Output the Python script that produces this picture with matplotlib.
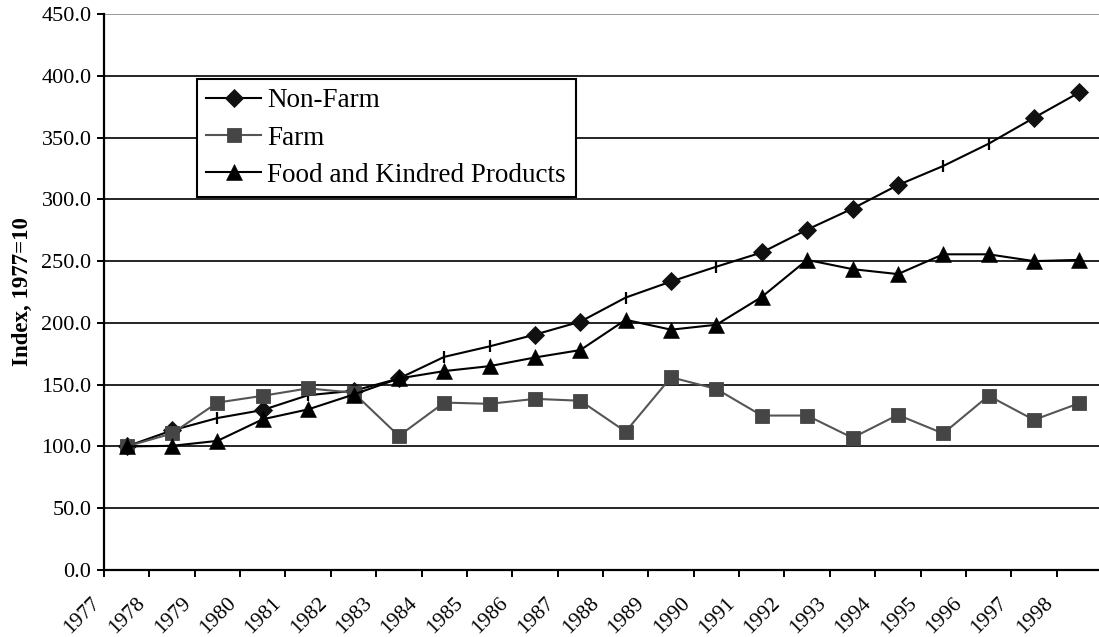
import matplotlib
matplotlib.use('Agg')
import matplotlib.pyplot as plt
import matplotlib.transforms as mtransforms

plt.rcParams['font.family'] = ['Liberation Serif', 'DejaVu Serif']

# Índices anuais (base 1977 = 100)
anos = [str(a) for a in range(1977, 1999)]

nao_agricola = [100.0, 113.0, 123.0, 129.5, 141.5, 145.0, 155.0, 172.5, 181.0, 190.5,
                201.0, 220.5, 233.5, 245.5, 257.0, 275.5, 292.5, 311.5, 327.0, 345.0,
                366.0, 386.5]
agricola = [100.0, 110.5, 135.5, 141.0, 147.0, 143.5, 108.5, 135.5, 134.5, 138.5,
            137.0, 112.0, 156.0, 146.5, 125.0, 125.0, 107.0, 125.5, 110.5, 141.0,
            121.5, 135.0]
alimentos = [100.0, 100.5, 104.5, 122.0, 130.0, 142.0, 155.0, 161.0, 165.0, 172.0,
             178.0, 202.5, 194.5, 198.5, 221.0, 251.0, 243.5, 239.5, 255.5, 255.5,
             250.0, 251.0]

# pontos da série Non-Farm que aparecem só com um traço vertical
sem_losango = [2, 4, 7, 8, 11, 13, 18, 19]

rotulos_series = ['Non-Farm', 'Farm', 'Food and Kindred Products']

# pontos no centro de cada categoria
x = [i + 0.5 for i in range(len(anos))]
com_losango = [i for i in range(len(anos)) if i not in sem_losango]

fig = plt.figure(figsize=(10.99, 6.37), dpi=100)
ax = fig.add_axes([104 / 1099, 1 - 570 / 637, 998 / 1099, 556 / 637])

# Gráfico de linhas
ax.plot(x, nao_agricola, color='black', lw=1.5, marker='D', ms=9.6,
        markevery=com_losango, mfc='#111111', mec='#111111', mew=0.6,
        label=rotulos_series[0], zorder=3)
ax.plot([x[i] for i in sem_losango], [nao_agricola[i] for i in sem_losango],
        ls='none', marker='|', ms=9, mew=1.6, color='black', zorder=3)
ax.plot(x, agricola, color='#555555', lw=1.5, marker='s', ms=10.4,
        mfc='#454545', mec='#454545', mew=0.6, label=rotulos_series[1], zorder=4)
ax.plot(x, alimentos, color='black', lw=1.5, marker='^', ms=11,
        mfc='black', mec='black', mew=0.4, label=rotulos_series[2], zorder=5)

# Eixos
ax.set_xlim(0, len(anos))
ax.set_ylim(0, 450)
ax.set_yticks(range(0, 451, 50))
ax.set_yticklabels(['%.1f' % v for v in range(0, 451, 50)], fontsize=16)
ax.set_xticks(range(len(anos)))
ax.set_xticklabels(anos, fontsize=15.5, rotation=45, ha='right', va='top')
desloca = mtransforms.ScaledTranslation(17 / 100, 0, fig.dpi_scale_trans)
for t in ax.get_xticklabels():
    t.set_transform(t.get_transform() + desloca)

ax.tick_params(axis='y', direction='out', length=5, width=1.4, pad=4)
ax.tick_params(axis='x', direction='out', length=5, width=1.4, pad=12)

ax.grid(axis='y', color='black', lw=1.2)
ax.set_axisbelow(True)
ax.yaxis.get_gridlines()[-1].set_color('#888888')

for lado in ['top', 'right']:
    ax.spines[lado].set_visible(False)
ax.spines['left'].set_linewidth(1.6)
ax.spines['bottom'].set_linewidth(1.6)

fig.text(22 / 1099, 1 - 292 / 637, 'Index, 1977=10', rotation=90, fontsize=16.5,
         fontweight='bold', ha='center', va='center')

leg = ax.legend(loc='upper left', bbox_to_anchor=(197 / 1099, 1 - 79 / 637),
                bbox_transform=fig.transFigure, fontsize=19.5, frameon=True,
                fancybox=False, edgecolor='black', framealpha=1,
                handlelength=2.0, handletextpad=0.25, labelspacing=0.45,
                borderpad=0.35, borderaxespad=0)
leg.get_frame().set_linewidth(1.5)

fig.savefig('out.png', dpi=100)
